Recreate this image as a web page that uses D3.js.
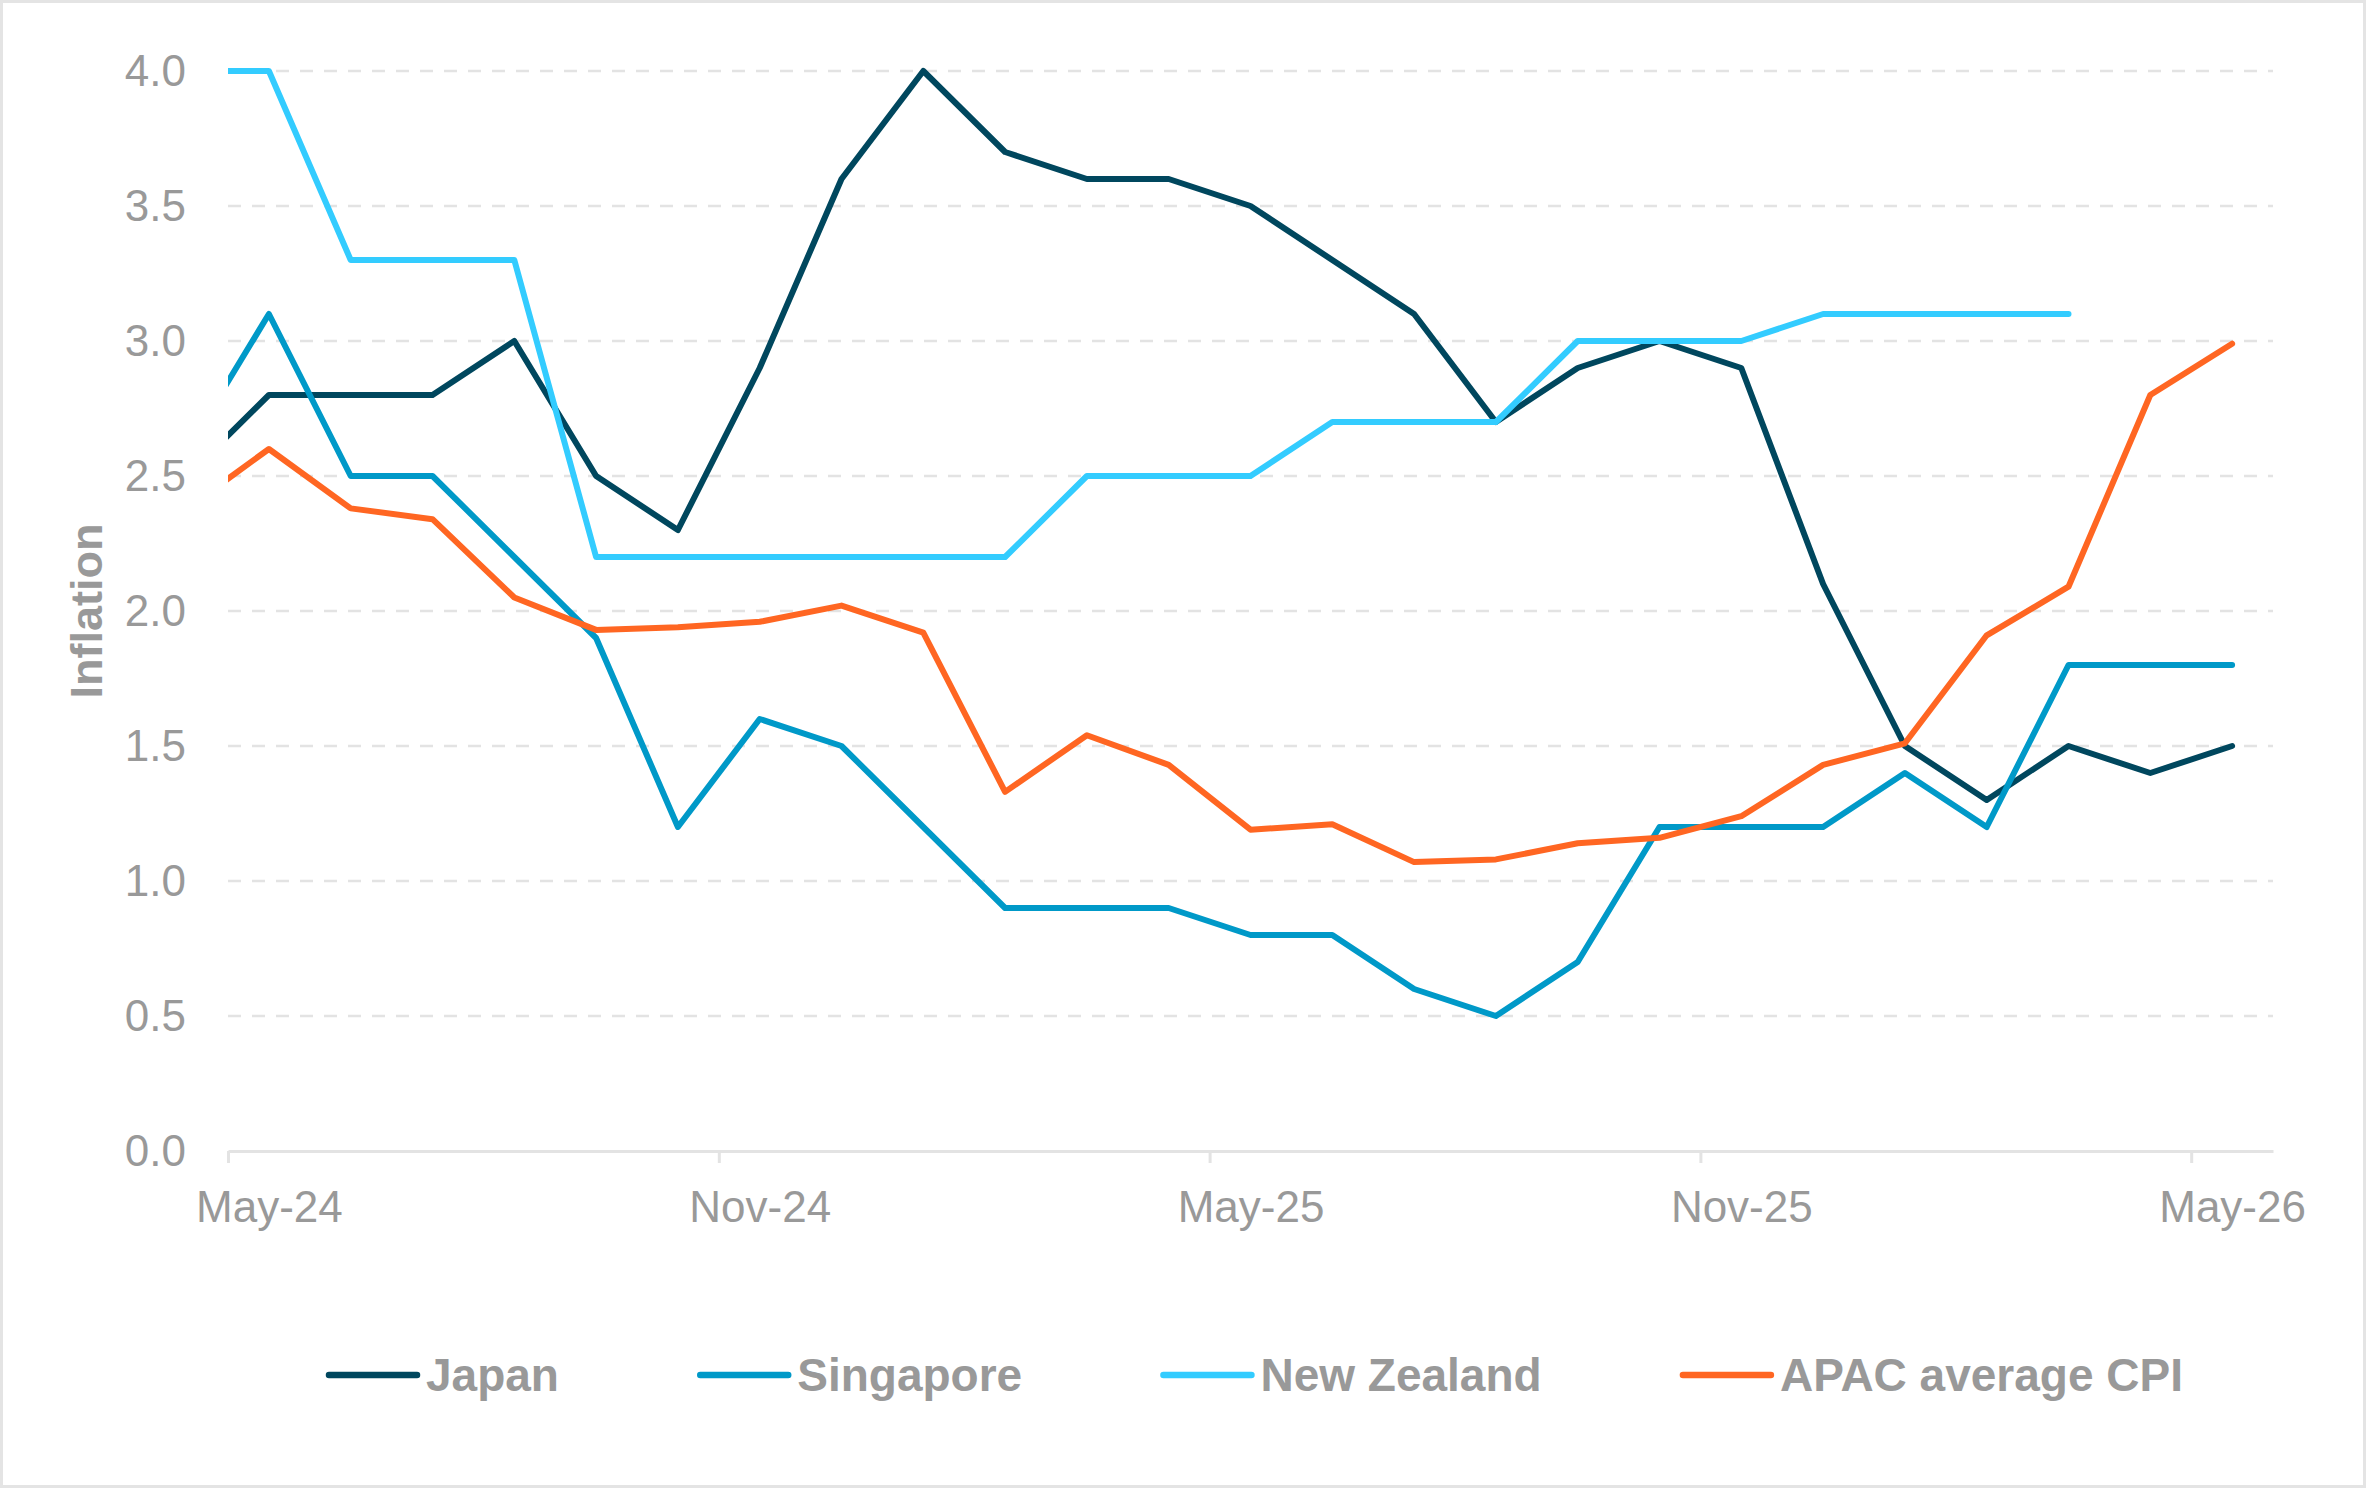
<!DOCTYPE html>
<html>
<head>
<meta charset="utf-8">
<script src="https://cdn.jsdelivr.net/npm/d3@7"></script>
<style>
  body { margin: 0; background: #fff; }
  svg { display: block; font-family: 'Liberation Sans', Arial, sans-serif; }
  .tick text { fill: #999999; font-size: 44px; }
  .legend-label { fill: #999999; font-size: 46px; font-weight: bold; }
  .axis-label { fill: #999999; font-size: 45px; font-weight: bold; }
</style>
</head>
<body>
<svg width="2366" height="1488"></svg>
<script>
// monthly readings, first month (Apr-24) sits just left of the plot and gets clipped
const months = ['Apr-24', 'May-24', 'Jun-24', 'Jul-24', 'Aug-24', 'Sep-24', 'Oct-24', 'Nov-24', 'Dec-24',
  'Jan-25', 'Feb-25', 'Mar-25', 'Apr-25', 'May-25', 'Jun-25', 'Jul-25', 'Aug-25', 'Sep-25', 'Oct-25',
  'Nov-25', 'Dec-25', 'Jan-26', 'Feb-26', 'Mar-26', 'Apr-26', 'May-26']

const japan = [2.5, 2.8, 2.8, 2.8, 3.0, 2.5, 2.3, 2.9, 3.6, 4.0, 3.7, 3.6, 3.6, 3.5, 3.3, 3.1, 2.7, 2.9, 3.0, 2.9, 2.1, 1.5, 1.3, 1.5, 1.4, 1.5]
const singapore = [2.6, 3.1, 2.5, 2.5, 2.2, 1.9, 1.2, 1.6, 1.5, 1.2, 0.9, 0.9, 0.9, 0.8, 0.8, 0.6, 0.5, 0.7, 1.2, 1.2, 1.2, 1.4, 1.2, 1.8, 1.8, 1.8]
const newZealand = [4.0, 4.0, 3.3, 3.3, 3.3, 2.2, 2.2, 2.2, 2.2, 2.2, 2.2, 2.5, 2.5, 2.5, 2.7, 2.7, 2.7, 3.0, 3.0, 3.0, 3.1, 3.1, 3.1, 3.1, null, null]
const apacAverage = [2.38, 2.60, 2.38, 2.34, 2.05, 1.93, 1.94, 1.96, 2.02, 1.92, 1.33, 1.54, 1.43, 1.19, 1.21, 1.07, 1.08, 1.14, 1.16, 1.24, 1.43, 1.51, 1.91, 2.09, 2.80, 2.99]

const seriesNames = ['Japan', 'Singapore', 'New Zealand', 'APAC average CPI']
const seriesValues = [japan, singapore, newZealand, apacAverage]
const seriesColors = ['#00475e', '#0099c8', '#33ccff', '#ff6622']

const xTickLabels = ['May-24', 'Nov-24', 'May-25', 'Nov-25', 'May-26']
const yTicks = [0, 0.5, 1.0, 1.5, 2.0, 2.5, 3.0, 3.5, 4.0]

const svg = d3.select('svg')
const width = +svg.attr('width')
const height = +svg.attr('height')

const margin = { top: 71, right: 93, bottom: 337, left: 228 }
const innerWidth = width - margin.left - margin.right
const innerHeight = height - margin.top - margin.bottom

svg.append('rect')
  .attr('x', 1.5).attr('y', 1.5)
  .attr('width', width - 3).attr('height', height - 3)
  .attr('fill', '#fff')
  .attr('stroke', '#e4e4e4')
  .attr('stroke-width', 3)

svg.append('defs').append('clipPath')
  .attr('id', 'plot-clip')
  .append('rect')
  .attr('x', margin.left).attr('y', margin.top - 10)
  .attr('width', innerWidth).attr('height', innerHeight + 20)

// x runs in months counted from the start of May-24; a reading sits in the middle of its month
const monthPos = i => i - 0.5
const xScale = d3.scaleLinear()
  .domain([0, 25])
  .range([margin.left, margin.left + innerWidth])

const yScale = d3.scaleLinear()
  .domain([0, 4])
  .range([margin.top + innerHeight, margin.top])

// dashed gridlines
svg.append('g')
  .selectAll('line')
  .data(yTicks.filter(d => d > 0))
  .enter().append('line')
  .attr('x1', margin.left)
  .attr('x2', margin.left + innerWidth)
  .attr('y1', d => yScale(d))
  .attr('y2', d => yScale(d))
  .attr('stroke', '#e3e3e3')
  .attr('stroke-width', 2.5)
  .attr('stroke-dasharray', '13 11')

const yAxisGroup = svg.append('g')
  .attr('transform', `translate(${margin.left}, 0)`)
  .call(d3.axisLeft(yScale).tickValues(yTicks).tickFormat(d3.format('.1f')).tickSize(0).tickPadding(42))
yAxisGroup.select('.domain').remove()
yAxisGroup.selectAll('text').attr('font-family', null).attr('font-size', null)

// tick marks at month boundaries, labels centred in the month
const xTickGroup = svg.append('g')
  .attr('transform', `translate(0, ${margin.top + innerHeight})`)
  .call(d3.axisBottom(xScale).tickValues([0, 6, 12, 18, 24]).tickFormat('').tickSizeInner(12).tickSizeOuter(0))
xTickGroup.select('.domain')
  .attr('stroke', '#e3e3e3')
  .attr('stroke-width', 3)
xTickGroup.selectAll('.tick line')
  .attr('stroke', '#e3e3e3')
  .attr('stroke-width', 3)

const xLabelGroup = svg.append('g')
  .attr('transform', `translate(0, ${margin.top + innerHeight})`)
  .call(d3.axisBottom(xScale)
    .tickValues([0.5, 6.5, 12.5, 18.5, 24.5])
    .tickFormat((d, i) => xTickLabels[i])
    .tickSize(0)
    .tickPadding(40))
xLabelGroup.select('.domain').remove()
xLabelGroup.selectAll('text').attr('font-family', null).attr('font-size', null)

svg.append('text')
  .attr('class', 'axis-label')
  .attr('transform', 'translate(102, 611) rotate(-90)')
  .attr('text-anchor', 'middle')
  .text('Inflation')

const line = d3.line()
  .defined(d => d != null)
  .x((d, i) => xScale(monthPos(i)))
  .y(d => yScale(d))

svg.append('g')
  .attr('clip-path', 'url(#plot-clip)')
  .selectAll('path')
  .data(seriesValues)
  .enter().append('path')
  .attr('d', line)
  .attr('fill', 'none')
  .attr('stroke', (d, i) => seriesColors[i])
  .attr('stroke-width', 6)
  .attr('stroke-linejoin', 'round')
  .attr('stroke-linecap', 'round')

// legend, spread from under the first label to under the last
const legendLeft = 329
const legendRight = 2183
const legend = svg.append('g')
  .attr('transform', 'translate(0, 1375)')
const items = legend.selectAll('g')
  .data(seriesNames)
  .enter().append('g')

items.append('line')
  .attr('x1', 0).attr('x2', 88)
  .attr('y1', 0).attr('y2', 0)
  .attr('stroke', (d, i) => seriesColors[i])
  .attr('stroke-width', 6.5)
  .attr('stroke-linecap', 'round')

items.append('text')
  .attr('class', 'legend-label')
  .attr('x', 97)
  .attr('y', 16)
  .text(d => d)

const widths = []
items.each(function () {
  widths.push(97 + d3.select(this).select('text').node().getComputedTextLength())
})
const spacing = (legendRight - legendLeft - d3.sum(widths)) / (widths.length - 1)
let cursor = legendLeft
items.each(function (d, i) {
  d3.select(this).attr('transform', `translate(${cursor}, 0)`)
  cursor += widths[i] + spacing
})
</script>
</body>
</html>
